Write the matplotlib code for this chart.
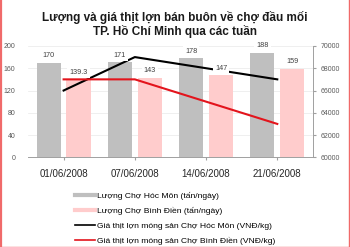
import matplotlib
matplotlib.use("Agg")
import matplotlib.pyplot as plt
import numpy as np
from matplotlib.lines import Line2D

plt.rcParams['font.family'] = ['Liberation Sans', 'DejaVu Sans']

title = "Lượng và giá thịt lợn bán buôn về chợ đầu mối\nTP. Hồ Chí Minh qua các tuần"
dates = ["01/06/2008", "07/06/2008", "14/06/2008", "21/06/2008"]
hocmon_qty = [170, 171, 178, 188]
binhdien_qty = [139.3, 143, 147, 159]
hocmon_price = [66000, 69000, 68000, 67000]
binhdien_price = [67000, 67000, 65000, 63000]
qty_labels_hm = ["170", "171", "178", "188"]
qty_labels_bd = ["139.3", "143", "147", "159"]
left_ticks = [0, 40, 80, 120, 160, 200]
right_ticks = [60000, 62000, 64000, 66000, 68000, 70000]
legend_labels = ["Lượng Chợ Hóc Môn (tấn/ngày)",
                 "Lượng Chợ Bình Điền (tấn/ngày)",
                 "Giá thịt lợn móng sản Chợ Hóc Môn (VNĐ/kg)",
                 "Giá thịt lợn móng sản Chợ Bình Điền (VNĐ/kg)"]

GRAY = "#BFBFBF"
PINK = "#FFCCCC"
RED = "#E3141C"
TXT = "#404040"

fig = plt.figure(figsize=(3.5, 2.47), dpi=100)
ax1 = fig.add_axes([0.08, 0.363, 0.814, 0.451])
ax2 = ax1.twinx()

x = np.arange(len(dates))
w = 0.34
off = 0.21
ax1.bar(x - off, hocmon_qty, w, color=GRAY, zorder=2)
ax1.bar(x + off, binhdien_qty, w, color=PINK, zorder=2)
ax1.set_ylim(0, 200)
ax1.set_xlim(-0.5, len(dates) - 0.5)
ax1.set_yticks(left_ticks)
ax1.set_yticklabels([str(t) for t in left_ticks], fontsize=5, color="#595959")
ax1.tick_params(axis='y', length=0, pad=9)
ax1.set_xticks(x)
ax1.set_xticklabels(dates, fontsize=7, color="#262626")
ax1.tick_params(axis='x', length=2.5, color="#A0A0A0", pad=6)
ax1.grid(axis='y', color="#EDEDED", linewidth=0.6, zorder=0)
ax1.set_axisbelow(True)
for s in ['left', 'top', 'right']:
    ax1.spines[s].set_visible(False)
ax1.spines['bottom'].set_color("#A0A0A0")
ax1.spines['bottom'].set_linewidth(0.7)

ax2.plot(x, hocmon_price, color="black", lw=1.5, zorder=3)
ax2.plot(x, binhdien_price, color=RED, lw=1.5, zorder=3)
ax2.set_ylim(60000, 70000)
ax2.set_yticks(right_ticks)
ax2.set_yticklabels([str(t) for t in right_ticks], fontsize=5, color="#595959")
ax2.tick_params(axis='y', length=2.5, color="#A0A0A0", pad=3)
for s in ['left', 'top', 'bottom']:
    ax2.spines[s].set_visible(False)
ax2.spines['right'].set_color("#A0A0A0")
ax2.spines['right'].set_linewidth(0.7)

for i in range(len(dates)):
    ax2.annotate(qty_labels_hm[i], xy=(x[i] - off, hocmon_qty[i]), xycoords=ax1.transData,
                 xytext=(0, 2.5), textcoords='offset points', ha='center', va='bottom',
                 fontsize=5.2, color=TXT, zorder=5,
                 bbox=dict(boxstyle='square,pad=0.3', fc='white', ec='none'))
    ax2.annotate(qty_labels_bd[i], xy=(x[i] + off, binhdien_qty[i]), xycoords=ax1.transData,
                 xytext=(0, 2.5), textcoords='offset points', ha='center', va='bottom',
                 fontsize=5.2, color=TXT, zorder=5,
                 bbox=dict(boxstyle='square,pad=0.3', fc='white', ec='none'))

fig.text(0.5, 0.90, title, ha='center', va='center', fontsize=8.5, fontweight='bold',
         color="#1a1a1a", linespacing=1.1)

handles = [Line2D([0], [0], color=GRAY, lw=3),
           Line2D([0], [0], color=PINK, lw=3),
           Line2D([0], [0], color="black", lw=1.2),
           Line2D([0], [0], color=RED, lw=1.2)]
fig.legend(handles, legend_labels, loc='upper left', bbox_to_anchor=(0.214, 0.222),
           frameon=False, fontsize=6.1, handlelength=2.4, handletextpad=0.2,
           labelspacing=0.8, borderaxespad=0, borderpad=0)

# outer border
border = "#F06A6A"
fig.add_artist(Line2D([0.003, 0.003], [0, 1], transform=fig.transFigure, color=border, lw=1.6))
fig.add_artist(Line2D([0.998, 0.998], [0, 1], transform=fig.transFigure, color=border, lw=1.0))
fig.add_artist(Line2D([0, 1], [0.002, 0.002], transform=fig.transFigure, color=border, lw=1.0))

fig.savefig("out.png", dpi=100)
